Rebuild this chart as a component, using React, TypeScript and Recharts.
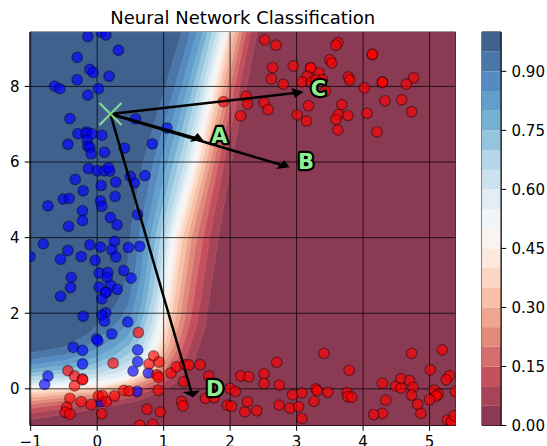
import React from 'react';
import { ScatterChart, Scatter, XAxis, YAxis, BarChart, Bar, ReferenceArea } from 'recharts';

type P = [number, number];
const xDomain: P = [-1.01, 5.39];
const yDomain: P = [-0.97, 9.44];
const xTicks = [-1, 0, 1, 2, 3, 4, 5];
const yTicks = [0, 2, 4, 6, 8];
const barTicks = [0, 0.15, 0.3, 0.45, 0.6, 0.75, 0.9];

const bluePoints: P[] = [[-0.14,9.32],[0.06,9.44],[0.13,9.36],[0.32,8.96],[-0.30,8.77],[-0.11,8.45],[-0.06,8.37],[-0.30,8.18],[0.18,8.27],[-0.64,8.01],[-0.56,7.94],[0.02,7.94],[-0.14,7.77],[-0.41,7.15],[0.58,7.14],[1.05,6.90],[-0.29,6.75],[-0.16,6.80],[-0.17,6.75],[-0.08,6.75],[0.07,6.71],[-0.44,6.47],[-0.15,6.58],[-0.14,6.42],[-0.11,6.39],[-0.09,6.22],[0.11,6.26],[0.41,6.37],[0.83,6.48],[-0.13,5.83],[0.00,5.77],[0.11,5.77],[0.19,5.76],[0.17,5.85],[0.50,5.62],[0.56,5.45],[0.72,5.64],[-0.33,5.54],[0.06,5.38],[0.28,5.47],[-0.21,5.24],[-0.51,5.02],[-0.42,5.04],[0.27,5.09],[0.05,4.97],[0.07,4.83],[-0.74,4.84],[-0.22,4.71],[0.20,4.53],[-0.22,4.45],[0.61,4.61],[-0.43,4.30],[0.30,4.34],[-0.81,3.84],[-0.44,3.66],[-0.11,3.81],[0.05,3.75],[0.26,3.90],[0.22,3.68],[0.47,3.74],[0.64,3.77],[0.28,3.49],[-0.55,3.43],[-0.24,3.50],[-0.03,3.40],[-1.01,3.50],[0.03,3.06],[0.16,3.08],[0.15,2.95],[0.40,3.13],[0.51,2.93],[-0.39,2.95],[-0.40,2.68],[0.03,2.69],[0.20,2.74],[0.30,2.63],[0.13,2.55],[0.13,2.55],[0.07,2.38],[-0.55,2.45],[0.13,2.01],[0.07,1.95],[-0.21,1.92],[0.11,1.79],[0.46,1.77],[0.22,1.45],[-0.01,1.32],[0.01,1.27],[-0.36,1.10],[-0.22,1.02],[-0.22,0.66],[0.61,1.03],[0.61,0.72],[0.54,0.47],[-0.74,0.34],[-0.79,0.12],[0.77,0.42],[0.60,-0.07],[0.06,-0.34]];

const redPoints: P[] = [[2.52,9.23],[1.90,7.60],[2.24,7.74],[2.26,7.54],[2.51,7.57],[2.57,7.39],[2.16,7.22],[3.62,9.16],[3.59,9.09],[2.69,9.09],[4.14,8.85],[4.14,8.85],[3.50,8.71],[3.53,8.62],[2.95,8.54],[2.64,8.50],[3.21,8.49],[3.21,8.49],[3.34,8.36],[3.16,8.27],[3.78,8.25],[3.80,8.17],[4.76,8.23],[2.62,8.20],[3.08,8.12],[2.80,8.06],[3.22,8.11],[3.29,8.18],[3.39,8.18],[4.65,8.06],[4.29,8.11],[4.29,8.11],[4.02,7.96],[3.43,7.87],[4.33,7.62],[4.58,7.65],[3.68,7.52],[3.18,7.49],[4.73,7.33],[4.06,7.29],[3.01,7.25],[3.63,7.26],[3.77,7.23],[3.59,7.13],[3.15,7.09],[3.62,6.85],[4.21,6.80],[0.62,1.49],[0.24,0.68],[-0.44,0.48],[-0.34,0.34],[-0.22,0.26],[-0.22,0.24],[-0.34,0.08],[-0.41,-0.25],[-0.24,-0.34],[-0.09,-0.42],[-0.46,-0.49],[-0.48,-0.62],[-0.41,-0.67],[0.02,-0.19],[0.08,-0.18],[0.14,-0.34],[0.26,-0.19],[0.07,-0.66],[0.40,-0.04],[0.48,-0.06],[0.92,-0.04],[0.75,-0.54],[0.95,-0.61],[0.64,-0.96],[0.84,-0.94],[0.78,0.66],[0.85,0.87],[0.93,0.71],[0.90,0.37],[0.92,0.31],[1.11,0.42],[1.19,0.58],[1.32,0.64],[1.38,0.63],[1.55,0.64],[1.30,0.19],[1.68,0.34],[1.63,-0.25],[1.27,-0.34],[1.29,-0.45],[1.76,-0.23],[1.96,-0.43],[2.02,-0.46],[2.00,0.01],[2.08,-0.07],[2.16,0.34],[2.28,0.32],[2.26,-0.34],[2.22,-0.61],[2.40,-0.58],[2.51,0.40],[2.51,0.14],[2.70,0.70],[3.41,0.94],[3.79,0.49],[4.73,0.94],[5.19,1.03],[5.01,0.50],[5.30,0.35],[5.25,0.24],[2.74,0.10],[2.94,-0.16],[3.08,-0.11],[3.29,0.00],[3.31,-0.05],[3.47,-0.09],[3.76,-0.10],[3.77,-0.21],[3.83,-0.22],[4.29,0.15],[4.49,0.07],[4.57,0.27],[4.57,0.02],[4.70,0.22],[4.75,0.04],[4.73,-0.17],[4.34,-0.30],[5.07,-0.03],[5.13,-0.14],[5.10,-0.19],[5.00,-0.29],[4.82,-0.41],[4.87,-0.65],[4.29,-0.65],[4.16,-0.68],[3.26,-0.33],[2.74,-0.43],[2.90,-0.51],[3.03,-0.47],[3.08,-0.78],[5.27,-0.82],[5.33,-0.87],[5.37,-0.71],[5.39,-0.07]];

const origin: P = [0.2, 7.27];
const arrowTips: P[] = [[3.10,7.85],[2.89,5.86],[1.59,6.58],[1.44,-0.22]];
const labelNames = ['A', 'B', 'C', 'D'];
const labelSpots: P[] = [[1.84,6.68],[3.14,6.0],[3.33,7.92],[1.77,-0.01]];

// Contour lines, from the left edge up to the top edge.
const level05: P[] = [[-1.01,-0.82],[-0.5,-0.67],[0.1,-0.50],[0.6,-0.32],[1.0,-0.05],[1.25,0.25],[1.45,0.7],[1.62,1.6],[1.82,3.95],[2.02,6],[2.41,9.44]];
const level10: P[] = [[-1.01,-0.65],[-0.5,-0.52],[0.09,-0.37],[0.56,-0.21],[0.93,0.05],[1.16,0.37],[1.34,0.84],[1.50,1.7],[1.69,3.96],[1.91,6],[2.31,9.44]];
const level15: P[] = [[-1.01,-0.52],[-0.5,-0.41],[0.08,-0.28],[0.53,-0.12],[0.88,0.13],[1.09,0.46],[1.26,0.95],[1.40,1.78],[1.59,3.97],[1.83,6],[2.24,9.44]];
const level20: P[] = [[-1.01,-0.41],[-0.5,-0.31],[0.08,-0.20],[0.50,-0.05],[0.83,0.19],[1.03,0.54],[1.20,1.04],[1.32,1.84],[1.50,3.97],[1.76,6],[2.18,9.44]];
const level25: P[] = [[-1.01,-0.32],[-0.5,-0.23],[0.07,-0.13],[0.48,0.02],[0.79,0.25],[0.98,0.60],[1.14,1.11],[1.25,1.90],[1.42,3.98],[1.70,6],[2.13,9.44]];
const level30: P[] = [[-1.01,-0.23],[-0.5,-0.15],[0.07,-0.07],[0.46,0.07],[0.76,0.30],[0.94,0.66],[1.08,1.18],[1.19,1.95],[1.36,3.98],[1.64,6],[2.08,9.44]];
const level35: P[] = [[-1.01,-0.15],[-0.5,-0.08],[0.06,0],[0.44,0.13],[0.72,0.35],[0.89,0.72],[1.03,1.25],[1.13,2.0],[1.29,3.99],[1.59,6],[2.03,9.44]];
const level40: P[] = [[-1.01,-0.08],[-0.5,-0.02],[0.06,0.05],[0.43,0.18],[0.70,0.39],[0.86,0.77],[0.99,1.31],[1.08,2.04],[1.24,3.99],[1.54,6],[1.99,9.44]];
const level45: P[] = [[-1.01,-0.02],[-0.5,0.04],[0.05,0.09],[0.41,0.22],[0.67,0.42],[0.83,0.81],[0.95,1.36],[1.04,2.07],[1.19,4.0],[1.50,6],[1.96,9.44]];
const level50: P[] = [[-1.01,0.03],[-0.5,0.08],[0.05,0.13],[0.4,0.25],[0.65,0.45],[0.8,0.85],[0.92,1.4],[1.0,2.1],[1.15,4.0],[1.47,6],[1.93,9.44]];
const level55: P[] = [[-1.01,0.09],[-0.5,0.14],[0.04,0.21],[0.38,0.34],[0.63,0.56],[0.78,0.95],[0.89,1.51],[0.97,2.18],[1.11,4.02],[1.42,6],[1.89,9.44]];
const level60: P[] = [[-1.01,0.15],[-0.5,0.21],[0.02,0.30],[0.36,0.45],[0.60,0.68],[0.75,1.08],[0.86,1.63],[0.93,2.28],[1.07,4.04],[1.37,6],[1.84,9.44]];
const level65: P[] = [[-1.01,0.22],[-0.5,0.29],[0.01,0.40],[0.33,0.58],[0.57,0.82],[0.71,1.21],[0.82,1.78],[0.89,2.39],[1.02,4.07],[1.31,6],[1.79,9.44]];
const level70: P[] = [[-1.01,0.32],[-0.5,0.40],[-0.02,0.53],[0.30,0.73],[0.53,0.99],[0.67,1.39],[0.77,1.96],[0.84,2.53],[0.96,4.11],[1.23,6],[1.73,9.44]];
const level75: P[] = [[-1.01,0.41],[-0.5,0.50],[-0.04,0.66],[0.27,0.89],[0.49,1.17],[0.63,1.56],[0.73,2.14],[0.78,2.67],[0.89,4.14],[1.15,6],[1.66,9.44]];
const level80: P[] = [[-1.01,0.51],[-0.5,0.61],[-0.06,0.81],[0.23,1.06],[0.45,1.36],[0.59,1.75],[0.68,2.34],[0.72,2.83],[0.82,4.18],[1.06,6],[1.59,9.44]];
const level85: P[] = [[-1.01,0.63],[-0.5,0.74],[-0.09,0.98],[0.19,1.26],[0.40,1.59],[0.53,1.98],[0.61,2.57],[0.66,3.01],[0.74,4.22],[0.96,6],[1.50,9.44]];
const level90: P[] = [[-1.01,0.77],[-0.5,0.90],[-0.12,1.17],[0.14,1.49],[0.35,1.85],[0.47,2.23],[0.54,2.84],[0.58,3.22],[0.65,4.27],[0.85,6],[1.40,9.44]];
const level95: P[] = [[-1.01,0.95],[-0.5,1.10],[-0.16,1.43],[0.08,1.8],[0.27,2.2],[0.39,2.58],[0.45,3.2],[0.47,3.5],[0.52,4.34],[0.69,6],[1.27,9.44]];
const curves: P[][] = [level05,level10,level15,level20,level25,level30,level35,level40,level45,level50,level55,level60,level65,level70,level75,level80,level85,level90,level95];

const anchors = [[103,0,31],[178,24,43],[214,96,77],[244,165,130],[253,219,199],[247,247,247],[209,229,240],[146,197,222],[67,147,195],[33,102,172],[5,50,108]];
const alpha = 0.77;
const rdbu = (t: number) => {
  const s = Math.min(t * 10, 9.9999), i = Math.floor(s), f = s - i;
  const rgb = [0,1,2].map(k => anchors[i][k] + (anchors[i+1][k]-anchors[i][k])*f).map(v => Math.round(v*alpha + 255*(1-alpha)));
  return `rgb(${rgb.join(',')})`;
};
const bandColors = Array.from({length: 20}, (_, i) => rdbu(i / 19));
const bandRow: Record<string, any> = { name: 'probability' };
bandColors.forEach((_, i) => { bandRow['b' + i] = 0.05; });

const toPts = (a: P[]) => a.map(([x, y]) => ({ x, y }));
const none = () => null;
const font = 'DejaVu Sans';
const dot = (fill: string) => (p: any) => <circle cx={p.cx} cy={p.cy} r={5.3} fill={fill} fillOpacity={0.65} stroke="#000" strokeOpacity={0.42} strokeWidth={1.2} />;
const fmtX = (v: number) => (v < 0 ? '\u2212' + Math.abs(v) : String(v));

const head = (tip: P): P[] => {
  const dx = tip[0]-origin[0], dy = tip[1]-origin[1], len = Math.hypot(dx, dy);
  const ux = dx/len, uy = dy/len, bx = tip[0]-ux*0.15, by = tip[1]-uy*0.15;
  return [[tip[0],tip[1]],[bx-uy*0.125,by+ux*0.125],[bx+uy*0.125,by-ux*0.125]];
};
const shaftEnd = (tip: P): P => {
  const dx = tip[0]-origin[0], dy = tip[1]-origin[1], len = Math.hypot(dx, dy);
  return [tip[0]-dx/len*0.1, tip[1]-dy/len*0.1];
};

export default function App() {
  const frame: P[] = [[xDomain[0],yDomain[0]],[xDomain[1],yDomain[0]],[xDomain[1],yDomain[1]],[xDomain[0],yDomain[1]]];
  return (
    <div style={{ position: 'absolute', left: 0, top: 0, width: 547, height: 446, overflow: 'hidden', fontFamily: font }}>
      <div style={{ position: 'absolute', left: 30, width: 425.5, top: 7.5, textAlign: 'center', fontSize: 18, lineHeight: '20px', color: '#000' }}>Neural Network Classification</div>
      <div style={{ position: 'absolute', left: 0, top: 0 }}>
        <ScatterChart width={470} height={446} margin={{ top: 32, right: 14.5, bottom: 0, left: 0 }}>
          <XAxis type="number" dataKey="x" domain={xDomain} ticks={xTicks} allowDataOverflow tickFormatter={fmtX} height={20.5} tickSize={5.25} tickMargin={5.3} interval={0}
            tick={{ fontSize: 15, fontFamily: font, fill: '#000' }} stroke="#000" />
          <YAxis type="number" dataKey="y" domain={yDomain} ticks={yTicks} allowDataOverflow width={30} tickSize={5.25} tickMargin={5.3} interval={0}
            tick={{ fontSize: 15, fontFamily: font, fill: '#000' }} stroke="#000" />
          <Scatter data={toPts(frame)} isAnimationActive={false} shape={none} line={{ fill: bandColors[0], stroke: 'none' }} />
          {curves.map((c, i) => (
            <Scatter key={i} data={toPts([...c, [xDomain[0], c[c.length-1][1]]])} isAnimationActive={false} shape={none}
              line={{ fill: bandColors[i+1], stroke: 'rgba(255,255,255,0.18)', strokeWidth: 0.5 }} />
          ))}
          {xTicks.map(v => (
            <Scatter key={'gx'+v} data={toPts([[v,yDomain[0]],[v,yDomain[1]]])} isAnimationActive={false} shape={none} line={{ stroke: '#000', strokeOpacity: 0.75, strokeWidth: 1 }} />
          ))}
          {yTicks.map(v => (
            <Scatter key={'gy'+v} data={toPts([[xDomain[0],v],[xDomain[1],v]])} isAnimationActive={false} shape={none} line={{ stroke: '#000', strokeOpacity: 0.75, strokeWidth: 1 }} />
          ))}
          <Scatter data={toPts(bluePoints)} isAnimationActive={false} shape={dot('#0000ff')} />
          <Scatter data={toPts(redPoints)} isAnimationActive={false} shape={dot('#ff0000')} />
          {arrowTips.map((t, i) => (
            <Scatter key={'s'+i} data={toPts([origin, shaftEnd(t)])} isAnimationActive={false} shape={none} line={{ stroke: '#000', strokeWidth: 2.5 }} />
          ))}
          {arrowTips.map((t, i) => (
            <Scatter key={'h'+i} data={toPts(head(t))} isAnimationActive={false} shape={none} line={{ fill: '#000', stroke: '#000', strokeWidth: 0.5 }} />
          ))}
          <Scatter data={toPts([origin])} isAnimationActive={false} shape={(p: any) => (
            <path d={`M${p.cx-11},${p.cy-11}L${p.cx+11},${p.cy+11}M${p.cx-11},${p.cy+11}L${p.cx+11},${p.cy-11}`} stroke="#90ee90" strokeOpacity={0.85} strokeWidth={2.2} fill="none" />
          )} />
          {labelNames.map((n, i) => (
            <Scatter key={n} data={toPts([labelSpots[i]])} isAnimationActive={false} shape={(p: any) => (
              <text x={p.cx} y={p.cy} textAnchor="middle" dominantBaseline="central" fontFamily={font} fontWeight="bold" fontSize={21} fill="#90ee90" stroke="#000" strokeWidth={4.4} style={{ paintOrder: 'stroke' }} strokeLinejoin="round">{n}</text>
            )} />
          ))}
          <ReferenceArea x1={xDomain[0]} x2={xDomain[1]} y1={yDomain[0]} y2={yDomain[1]} fill="none" stroke="#333" strokeWidth={1} />
        </ScatterChart>
      </div>
      <div style={{ position: 'absolute', left: 470, top: 0 }}>
        <BarChart width={77} height={446} data={[bandRow]} barCategoryGap={0} margin={{ top: 32, right: 0, bottom: 20.5, left: 12 }}>
          <XAxis hide dataKey="name" />
          <YAxis orientation="right" type="number" domain={[0, 1]} ticks={barTicks} width={46} tickSize={5.25} tickMargin={5.3} interval={0}
            tickFormatter={(v: number) => v.toFixed(2)} tick={{ fontSize: 15, fontFamily: font, fill: '#000', textAnchor: 'start' }} stroke="#000" />
          {bandColors.map((c, i) => (
            <Bar key={i} dataKey={'b' + i} stackId="bar" fill={c} isAnimationActive={false} />
          ))}
          <ReferenceArea y1={0} y2={1} fill="none" stroke="#000" strokeWidth={1} />
        </BarChart>
      </div>
    </div>
  );
}
